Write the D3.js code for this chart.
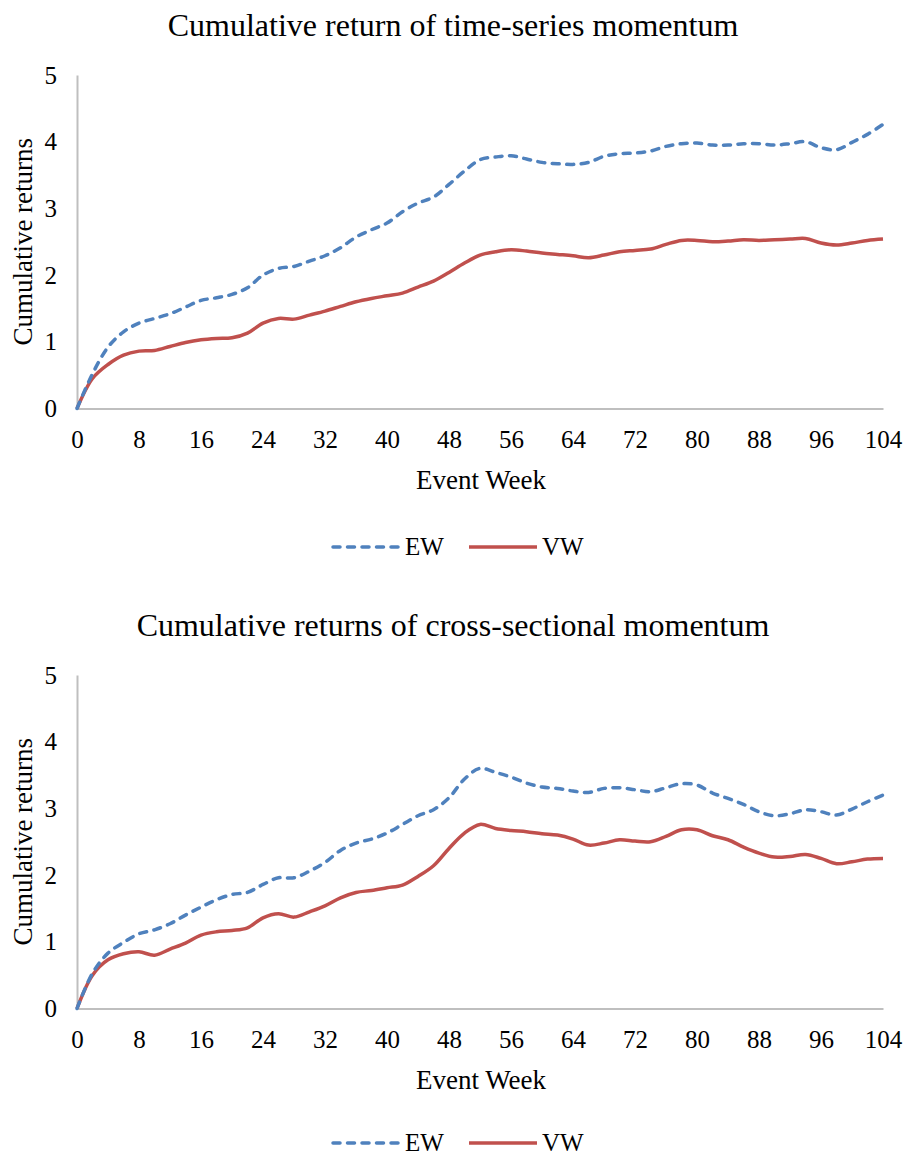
<!DOCTYPE html>
<html><head><meta charset="utf-8">
<script src="https://cdn.jsdelivr.net/npm/d3@7"></script>
<style>
html,body{margin:0;padding:0;background:#fff;}
svg text{font-family:"Liberation Serif","Times New Roman",serif;fill:#000;}
</style></head>
<body><svg id="c" width="905" height="1157"></svg>
<script>
const weeks = [0,2,4,6,8,10,12,14,16,18,20,22,24,26,28,30,32,34,36,38,40,42,44,46,48,50,52,54,56,58,60,62,64,66,68,70,72,74,76,78,80,82,84,86,88,90,92,94,96,98,100,102,104];
const xTicks = [0,8,16,24,32,40,48,56,64,72,80,88,96,104];
const yTicks = [0,1,2,3,4,5];
const seriesNames = ["EW","VW"];

const tsEW = [0,0.52,0.92,1.15,1.28,1.35,1.42,1.52,1.62,1.66,1.71,1.81,2.0,2.1,2.13,2.21,2.29,2.41,2.57,2.68,2.78,2.95,3.08,3.17,3.36,3.56,3.73,3.77,3.79,3.74,3.69,3.67,3.66,3.69,3.78,3.82,3.83,3.86,3.93,3.97,3.98,3.95,3.95,3.97,3.97,3.95,3.97,4.0,3.91,3.88,3.99,4.11,4.26];
const tsVW = [0,0.45,0.66,0.8,0.86,0.87,0.93,0.99,1.03,1.05,1.06,1.13,1.28,1.35,1.34,1.4,1.46,1.53,1.6,1.65,1.69,1.73,1.82,1.91,2.04,2.18,2.3,2.35,2.38,2.36,2.33,2.31,2.29,2.26,2.3,2.35,2.37,2.39,2.46,2.52,2.52,2.5,2.51,2.53,2.52,2.53,2.54,2.55,2.48,2.45,2.48,2.52,2.54];
const csEW = [0,0.53,0.83,0.99,1.12,1.18,1.27,1.4,1.52,1.63,1.71,1.74,1.86,1.96,1.96,2.06,2.19,2.37,2.48,2.54,2.63,2.76,2.89,2.98,3.16,3.44,3.6,3.54,3.47,3.38,3.32,3.3,3.26,3.24,3.3,3.31,3.28,3.25,3.31,3.37,3.35,3.23,3.15,3.06,2.95,2.89,2.92,2.98,2.95,2.9,2.99,3.1,3.2];
const csVW = [0,0.5,0.73,0.82,0.85,0.8,0.89,0.98,1.1,1.15,1.17,1.21,1.36,1.42,1.37,1.45,1.54,1.66,1.74,1.77,1.81,1.85,1.98,2.14,2.4,2.63,2.76,2.7,2.67,2.65,2.62,2.6,2.54,2.45,2.48,2.53,2.51,2.5,2.58,2.68,2.68,2.59,2.53,2.42,2.33,2.27,2.28,2.31,2.25,2.17,2.2,2.24,2.25];

const titles = ["Cumulative return of time-series momentum","Cumulative returns of cross-sectional momentum"];
const xTitle = "Event Week";
const yTitle = "Cumulative returns";

const colors = {EW:"#4F81BD", VW:"#C0504D"};
const svg = d3.select("#c");

function drawChart(offsetY, title, ew, vw, legendY){
  const g = svg.append("g").attr("transform",`translate(0,${offsetY})`);
  const x = d3.scaleLinear().domain([0,104]).range([77,883]);
  const y = d3.scaleLinear().domain([0,5]).range([408.5,75]);

  g.append("text").attr("x",453).attr("y",36).attr("text-anchor","middle")
    .style("font-size","32px").text(title);

  const xa = g.append("g").attr("transform",`translate(0,${y(0)})`)
    .call(d3.axisBottom(x).tickValues(xTicks).tickSize(0).tickPadding(22).tickFormat(d3.format("d")));
  xa.select(".domain").attr("stroke","#BFBFBF").attr("stroke-width",2);
  xa.selectAll("text").style("font-size","25px").style("font-family","Liberation Serif").attr("fill","#000");

  const ya = g.append("g").attr("transform",`translate(${x(0)},0)`)
    .call(d3.axisLeft(y).tickValues(yTicks).tickSize(0).tickPadding(20).tickFormat(d3.format("d")));
  ya.select(".domain").attr("stroke","#BFBFBF").attr("stroke-width",2);
  ya.selectAll("text").style("font-size","25px").style("font-family","Liberation Serif").attr("fill","#000");

  g.append("text").attr("x",481).attr("y",489).attr("text-anchor","middle")
    .style("font-size","27px").text(xTitle);
  g.append("text").attr("transform",`translate(32,${(y(0)+y(5))/2}) rotate(-90)`)
    .attr("text-anchor","middle").style("font-size","27px").text(yTitle);

  const line = d3.line().x((d,i)=>x(weeks[i])).y(d=>y(d)).curve(d3.curveCatmullRom.alpha(0.5));
  g.append("path").datum(vw).attr("d",line).attr("fill","none")
    .attr("stroke",colors.VW).attr("stroke-width",3.5).attr("stroke-linejoin","round");
  g.append("path").datum(ew).attr("d",line).attr("fill","none")
    .attr("stroke",colors.EW).attr("stroke-width",3.5).attr("stroke-dasharray","7,7.5")
    .attr("stroke-linecap","round").attr("stroke-linejoin","round");

  const ly = legendY;
  const lg = g.append("g");
  lg.append("line").attr("x1",333).attr("x2",400).attr("y1",ly).attr("y2",ly)
    .attr("stroke",colors.EW).attr("stroke-width",3.5).attr("stroke-dasharray","7,7.5").attr("stroke-linecap","round");
  lg.append("text").attr("x",405).attr("y",ly+8).style("font-size","25px").text(seriesNames[0]);
  lg.append("line").attr("x1",469).attr("x2",537).attr("y1",ly).attr("y2",ly)
    .attr("stroke",colors.VW).attr("stroke-width",3.5);
  lg.append("text").attr("x",542).attr("y",ly+8).style("font-size","25px").text(seriesNames[1]);
}

drawChart(0, titles[0], tsEW, tsVW, 547);
drawChart(600, titles[1], csEW, csVW, 543);
</script></body></html>
